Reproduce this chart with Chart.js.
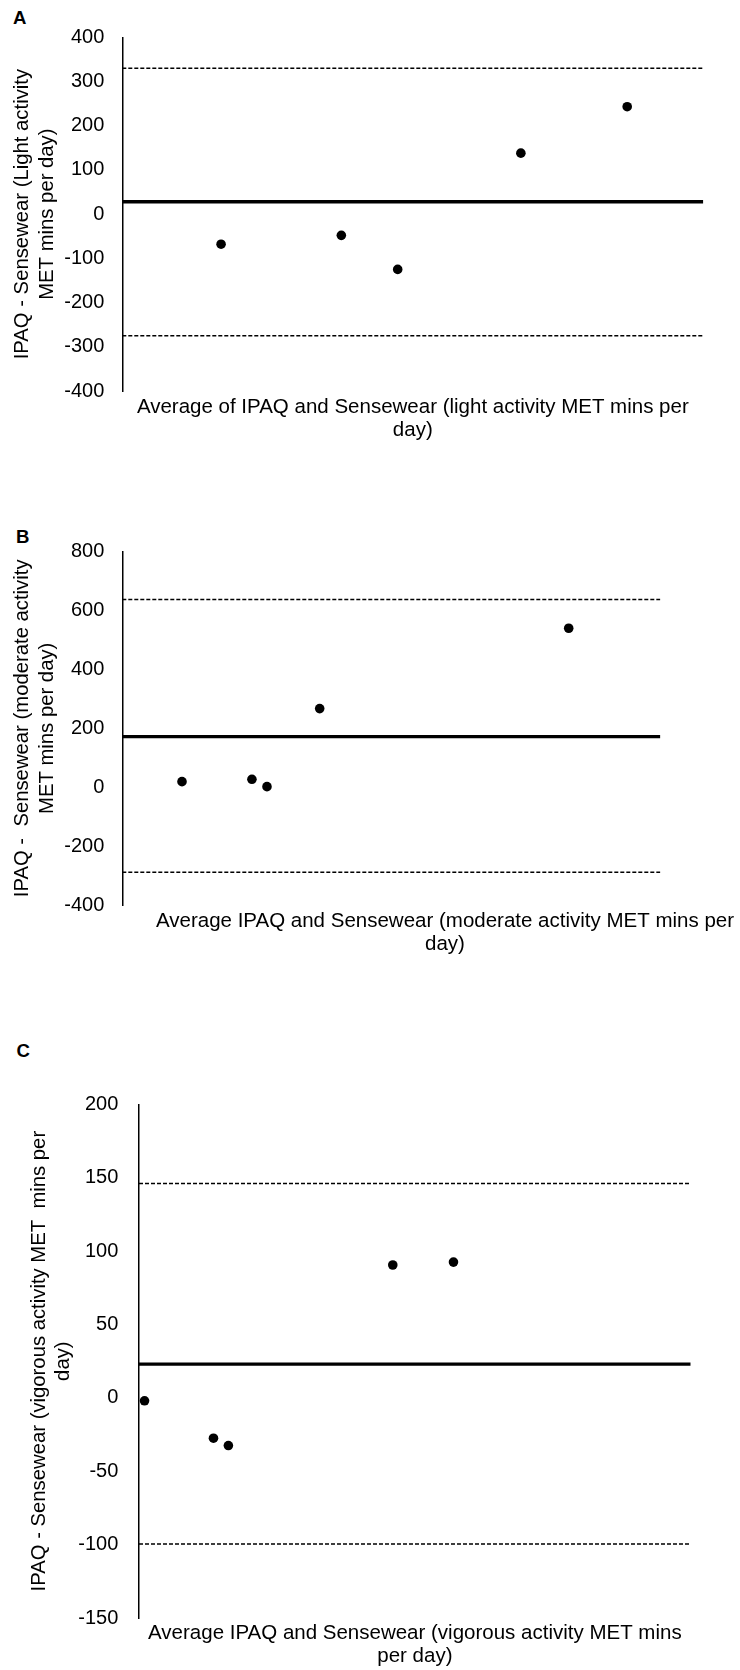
<!DOCTYPE html>
<html lang="en">
<head>
  <meta charset="UTF-8" />
  <title>IPAQ vs Sensewear - Bland-Altman plots</title>
  <script src="https://cdn.jsdelivr.net/npm/chart.js@4"></script>
  <style>
    html, body {
      margin: 0;
      padding: 0;
      background: #fff;
    }
    body {
      position: relative;
      width: 740px;
      height: 1670px;
      overflow: hidden;
      font-family: "Liberation Sans", Arial, sans-serif;
    }
    /* each panel is its own canvas */
    .panel {
      position: absolute;
      left: 0;
      overflow: hidden;
      width: 740px;
    }
    /* panel letters A / B / C */
    .tag {
      position: absolute;
      font-weight: bold;
      font-size: 18.6px;
      line-height: 1;
      color: #000;
    }
  </style>
</head>
<body>

  <div class="tag" style="left:13px; top:9.3px;">A</div>
  <div class="tag" style="left:16px; top:527.6px;">B</div>
  <div class="tag" style="left:16.5px; top:1042px;">C</div>

  <div class="panel" style="top:0; height:460px;">
    <canvas id="chartA" width="740" height="460"></canvas>
  </div>
  <div class="panel" style="top:470px; height:500px;">
    <canvas id="chartB" width="780" height="500"></canvas>
  </div>
  <div class="panel" style="top:1020px; height:650px;">
    <canvas id="chartC" width="740" height="650"></canvas>
  </div>

  <script>
    // ==== DATA ====
    // x = average of the two methods (axis has no labels, lines run 0..1000)
    // y = IPAQ - Sensewear

    // A) light activity
    const lightAvg   = [170, 377, 474, 686, 869];
    const lightDiff  = [-68, -48, -125, 138, 243];
    const lightMean  = 28;
    const lightUpper = 330;
    const lightLower = -275;
    const lightTicks = [-400, -300, -200, -100, 0, 100, 200, 300, 400];

    // B) moderate activity
    const modAvg   = [111, 241, 269, 367, 830];
    const modDiff  = [19, 27, 2, 267, 540];
    const modMean  = 172;
    const modUpper = 638;
    const modLower = -289;
    const modTicks = [-400, -200, 0, 200, 400, 600, 800];

    // C) vigorous activity
    const vigAvg   = [10, 135, 162, 460, 570];
    const vigDiff  = [-2, -27.5, -32.5, 90.5, 92.5];
    const vigMean  = 23;
    const vigUpper = 146;
    const vigLower = -99.5;
    const vigTicks = [-150, -100, -50, 0, 50, 100, 150, 200];

    // mean / limit lines span the same x range in every panel
    const lineSpan = [0, 1000];

    // ==== SHARED STYLE ====
    const FONT = '"Liberation Sans", Arial, Helvetica, sans-serif';
    Chart.defaults.font.family = FONT;
    Chart.defaults.color = '#000';

    // Build one Bland-Altman panel
    function blandAltman(canvasId, d, lay) {
      const flat = (v) => lineSpan.map((x) => ({ x: x, y: v }));
      const points = d.avg.map((x, i) => ({ x: x, y: d.diff[i] }));
      const ctx = document.getElementById(canvasId).getContext('2d');

      return new Chart(ctx, {
        type: 'scatter',
        data: {
          datasets: [
            {
              label: 'Participants',
              data: points,
              pointRadius: 4.8,
              pointBackgroundColor: '#000',
              pointBorderWidth: 0,
              showLine: false
            },
            {
              label: 'Mean difference',
              data: flat(d.mean),
              showLine: true,
              borderColor: '#000',
              borderWidth: 3.3,
              pointRadius: 0
            },
            {
              label: 'Upper limit',
              data: flat(d.upper),
              showLine: true,
              borderColor: '#000',
              borderWidth: 1.5,
              borderDash: [4, 2],
              pointRadius: 0
            },
            {
              label: 'Lower limit',
              data: flat(d.lower),
              showLine: true,
              borderColor: '#000',
              borderWidth: 1.5,
              borderDash: [4, 2],
              pointRadius: 0
            }
          ]
        },
        options: {
          responsive: false,
          animation: false,
          events: [],
          layout: {
            padding: { top: lay.padTop, right: lay.padRight, bottom: 0, left: 0 }
          },
          plugins: {
            legend: { display: false },
            tooltip: { enabled: false }
          },
          scales: {
            x: {
              type: 'linear',
              min: 0,
              max: lay.xMax,
              grid: { display: false, drawTicks: false },
              border: { display: false },
              ticks: { display: false },
              title: {
                display: true,
                text: d.xTitle,
                color: '#000',
                font: { size: 20.5, lineHeight: 1.1 },
                padding: { top: 0, bottom: lay.xTitlePad }
              },
              afterFit: (s) => { s.height = lay.xHeight; }
            },
            y: {
              type: 'linear',
              min: d.ticks[0],
              max: d.ticks[d.ticks.length - 1],
              grid: { display: false, drawTicks: false },
              border: { display: true, color: '#000', width: 1.5 },
              ticks: {
                color: '#000',
                padding: lay.tickPad,
                font: { size: 20 }
              },
              afterBuildTicks: (s) => {
                s.ticks = d.ticks.map((v) => ({ value: v }));
              },
              title: {
                display: true,
                text: d.yTitle,
                color: '#000',
                font: { size: 20.3, lineHeight: lay.yLine },
                padding: { top: lay.yTitlePad, bottom: 0 }
              },
              afterFit: (s) => { s.width = lay.yWidth; }
            }
          }
        }
      });
    }

    // ==== DRAW THE THREE PANELS ====
    blandAltman('chartA', {
      avg: lightAvg, diff: lightDiff, mean: lightMean,
      upper: lightUpper, lower: lightLower, ticks: lightTicks,
      xTitle: ['Average of IPAQ and Sensewear (light activity MET mins per', 'day)'],
      yTitle: ['IPAQ - Sensewear (Light activity', 'MET mins per day)']
    }, {
      padTop: 37.3, padRight: 36.7, xMax: 1000,
      xHeight: 69, xTitlePad: 18.7,
      yWidth: 122.3, tickPad: 18, yLine: 1.26, yTitlePad: 9.4
    });

    blandAltman('chartB', {
      avg: modAvg, diff: modDiff, mean: modMean,
      upper: modUpper, lower: modLower, ticks: modTicks,
      xTitle: ['Average IPAQ and Sensewear (moderate activity MET mins per', 'day)'],
      yTitle: ['IPAQ -  Sensewear (moderate activity', 'MET mins per day)']
    }, {
      padTop: 81.7, padRight: 12.3, xMax: 1200,
      xHeight: 65, xTitlePad: 14.7,
      yWidth: 122.3, tickPad: 18, yLine: 1.26, yTitlePad: 9.4
    });

    blandAltman('chartC', {
      avg: vigAvg, diff: vigDiff, mean: vigMean,
      upper: vigUpper, lower: vigLower, ticks: vigTicks,
      xTitle: ['Average IPAQ and Sensewear (vigorous activity MET mins', 'per day)'],
      yTitle: ['IPAQ - Sensewear (vigorous activity MET  mins per', 'day)']
    }, {
      padTop: 84.3, padRight: 49.3, xMax: 1000,
      xHeight: 52, xTitlePad: 2.4,
      yWidth: 139, tickPad: 20.7, yLine: 1.2, yTitlePad: 27
    });
  </script>

</body>
</html>
